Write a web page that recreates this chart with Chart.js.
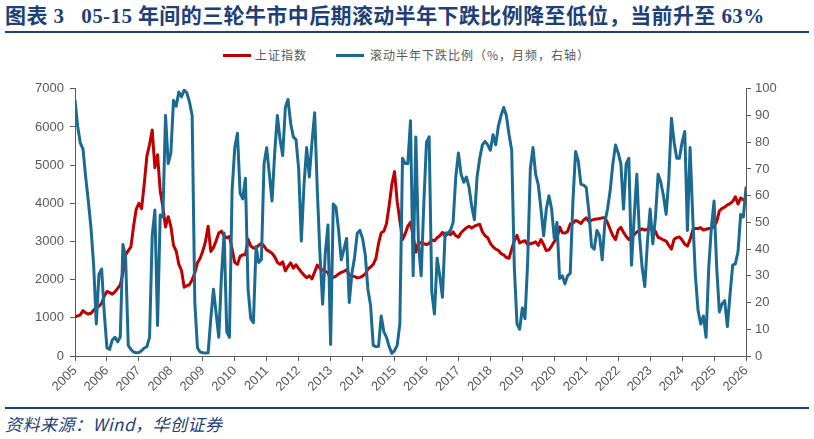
<!DOCTYPE html>
<html><head><meta charset="utf-8">
<script src="https://cdn.jsdelivr.net/npm/chart.js@4.4.1/dist/chart.umd.min.js"></script>
<style>
html,body{margin:0;padding:0;background:#fff;}
body{width:814px;height:439px;position:relative;overflow:hidden;font-family:"Liberation Sans","Noto Sans CJK SC",sans-serif;}
#title{position:absolute;left:5px;top:4px;font-family:"Liberation Serif","Noto Sans CJK SC",serif;font-weight:bold;font-size:21px;letter-spacing:0.4px;line-height:25px;color:#1E3F78;white-space:nowrap;}
#topline{position:absolute;left:5px;top:31px;width:804px;height:2px;background:#1E3F78;}
.lg{position:absolute;top:47px;font-size:12px;line-height:16px;color:#595959;letter-spacing:1px;white-space:nowrap;font-family:"Noto Sans CJK SC",sans-serif;}
.sw{position:absolute;top:54px;width:28px;height:3px;}
#wrap{position:absolute;left:0;top:75px;width:814px;height:330px;}
#botline{position:absolute;left:5px;top:407px;width:804px;height:2px;background:#1E3F78;}
#source{position:absolute;left:5px;top:413px;font-style:italic;font-size:17px;letter-spacing:0.5px;line-height:22px;color:#1E3F78;font-family:"Noto Sans CJK SC",serif;}
</style></head>
<body>
<div id="title">图表&nbsp;3&nbsp;&nbsp;&nbsp;05-15 年间的三轮牛市中后期滚动半年下跌比例降至低位，当前升至 63%</div>
<div id="topline"></div>
<div class="sw" style="left:223px;background:#C00000"></div>
<div class="lg" style="left:255px">上证指数</div>
<div class="sw" style="left:336px;background:#1A6A92"></div>
<div class="lg" style="left:370px">滚动半年下跌比例（%，月频，右轴）</div>
<div id="wrap"><canvas id="c" width="814" height="330"></canvas></div>
<div id="botline"></div>
<div id="source">资料来源：Wind，华创证券</div>
<script>
// Monthly points, Jan 2005 .. Jan 2026
const yearLabels = ['2005','2006','2007','2008','2009','2010','2011','2012','2013','2014','2015','2016','2017','2018','2019','2020','2021','2022','2023','2024','2025','2026'];
const sseIndex = [
1030,1050,1080,1190,1130,1100,1120,1200,1280,1300,1380,1570,
1690,1660,1620,1680,1770,1860,2180,2650,2760,2860,3400,3850,
4000,3860,4500,5240,5540,5920,4930,5270,4330,3900,3380,3650,
3400,2900,2750,2400,2240,1800,1840,1870,2000,2180,2440,2560,
2750,3000,3400,2740,2840,3020,3220,3270,3150,3100,3130,2800,
2450,2400,2610,2650,2650,3060,2880,2830,2830,2900,2950,2880,
2780,2740,2690,2600,2450,2400,2470,2230,2350,2440,2300,2390,
2290,2200,2120,2050,2100,2020,2200,2380,2300,2250,2220,2180,
2030,2060,2090,2150,2190,2220,2260,2120,2100,2080,2050,2060,
2090,2150,2280,2330,2400,2550,2950,3230,3270,3470,3950,4500,
4830,4050,3550,3050,3200,3400,3500,3150,2720,2990,2960,2940,
2920,2950,3040,3020,3100,3150,3240,3140,3210,3180,3250,3150,
3110,3230,3300,3360,3400,3350,3400,3430,3450,3250,3150,3100,
2950,2860,2800,2770,2680,2650,2580,2560,2800,3020,3160,2960,
3000,3020,2920,2940,2960,2990,2900,3050,2920,2760,2780,2880,
3000,3070,3380,3230,3220,3260,3460,3480,3550,3520,3470,3560,
3620,3520,3560,3580,3590,3600,3620,3620,3490,3320,3150,3050,
3300,3370,3240,3130,3050,3120,3180,3250,3290,3330,3300,3320,
3340,3340,3260,3110,3080,3040,3010,2900,2800,3060,3100,3120,
3040,2930,2880,3050,3300,3340,3340,3360,3300,3320,3340,3340,
3400,3520,3800,3870,3900,3960,3990,4050,4170,3980,4140,4090,
4100];
const downRatio = [
95.7,86,79.7,77.5,67,58,48,34,12,30.6,32.5,16,
3,2.5,6,7,5.3,7.1,41.7,37,4,2.5,1.5,1.2,
1.3,2,3,3.5,7,45,54.6,11.4,52.8,52,90,72,
76,95.7,93.5,98.8,97,99.5,98.5,95,90,20,3,1.5,
1.2,1.1,1.2,14,25,16,7,30,46,9,7,62,
78,83.4,61,58.8,66.5,25,14,12.5,41,35,36,72,
77.9,68,58,76,90,81,75,93,96,87,82,81,
70,43,64,78,67,80,91,62,38,19.4,38.5,49,
4.3,56.9,55.7,47,36,40,44,20,31,37,45.9,47,
44,38,25,19,4,3.5,3.6,15,9,7,3.5,1,
2,4,12,74,72,72,88,30,82,42,30,57,
80,82,24,15.7,36.6,30,22,46,46,47,50,67,
76,68,65,67,63,56,51,67,74,79,80.3,79,
77,82.8,79,86,90,93,90,83,77,33,12,10,
18,14,35,70,78,68,64,55,45,55,60,55,
44,50,29,30,27,30,31,58,76.5,73,64.3,64,
63,54,41,40,47,45,36,50,55,62,72,79,
76,72,55,72,74,34,52,68,45,33,26,43,
55,42,52,68,65,60,53,66,89,80,74,74,
80,84,47,78,52,30,17,12,15,7,33,48,
58,33,16.5,19.5,20.7,11,23,34,34.5,39,53,52,
63];
const pts = arr => arr.map((v,i)=>({x:i,y:v}));
const axisCol = '#595959';
const tickFont = {family:'"Liberation Sans", Arial, sans-serif', size:13};
new Chart(document.getElementById('c'), {
  type:'line',
  data:{datasets:[
    {label:'上证指数', data:pts(sseIndex), borderColor:'#C00000', borderWidth:3, pointRadius:0, yAxisID:'y', tension:0, order:1, borderJoinStyle:'round', borderCapStyle:'round'},
    {label:'滚动半年下跌比例（%，月频，右轴）', data:pts(downRatio), borderColor:'#1A6A92', borderWidth:3, pointRadius:0, yAxisID:'y1', tension:0, order:0, borderJoinStyle:'round', borderCapStyle:'round'}
  ]},
  options:{
    responsive:false, animation:false,
    layout:{padding:{top:10,left:0,right:0,bottom:0}},
    plugins:{legend:{display:false}, tooltip:{enabled:false}},
    scales:{
      x:{type:'linear', min:0, max:252,
        ticks:{stepSize:12, autoSkip:false, maxRotation:45, minRotation:45, padding:2, color:axisCol, font:tickFont,
          callback:(v)=> (v%12===0 ? yearLabels[v/12] : '')},
        grid:{drawOnChartArea:false, drawTicks:true, tickLength:5, color:axisCol},
        border:{display:true, color:axisCol, width:1},
        afterFit(s){ s.height = 49; }},
      y:{position:'left', min:0, max:7000,
        ticks:{stepSize:1000, padding:6, color:axisCol, font:tickFont, callback:(v)=>String(v)},
        grid:{drawOnChartArea:false, drawTicks:true, tickLength:5, color:axisCol},
        border:{display:true, color:axisCol, width:1},
        afterFit(s){ s.width = 75; }},
      y1:{position:'right', min:0, max:100,
        ticks:{stepSize:10, padding:4, color:axisCol, font:tickFont, callback:(v)=>String(v)},
        grid:{drawOnChartArea:false, drawTicks:true, tickLength:5, color:axisCol},
        border:{display:true, color:axisCol, width:1},
        afterFit(s){ s.width = 68; }}
    }
  }
});
</script>
</body></html>
